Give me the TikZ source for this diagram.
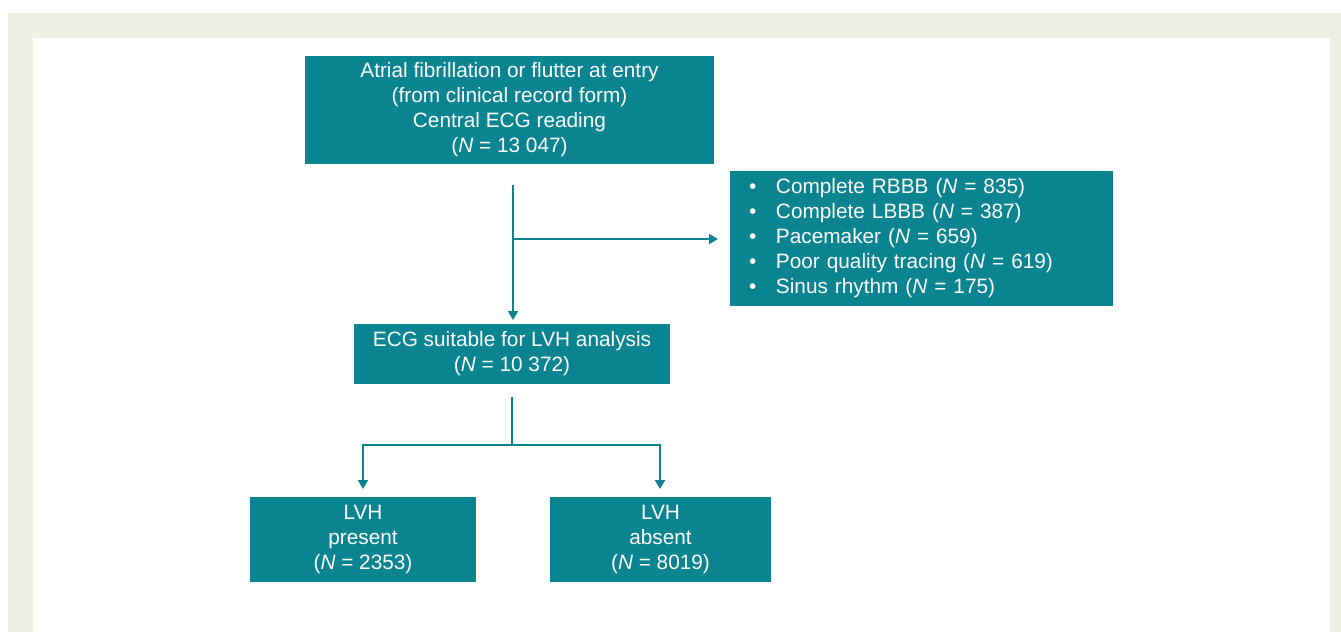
\documentclass[tikz,border=0pt]{standalone}
\usepackage{fontspec}
\setmainfont{Liberation Sans}
\usetikzlibrary{arrows.meta}
\definecolor{teal1}{RGB}{10,132,144}
\definecolor{beige1}{RGB}{239,239,227}
\tikzset{
  box/.style={fill=teal1, draw=none, text=white, align=center, inner sep=0pt,
    font=\fontsize{20.8}{25}\selectfont},
  conn/.style={draw=teal1, line width=1.9pt},
  arr/.style={conn, -{Triangle[length=9pt,width=10pt]}}
}
\newcommand{\NN}{\textit{N}}
\begin{document}
\begin{tikzpicture}[x=1pt,y=-1pt]
\useasboundingbox (0,0) rectangle (1341,632);
\fill[white] (0,0) rectangle (1341,632);
\fill[beige1] (8,13) rectangle (1341,632);
\fill[white] (33,38) rectangle (1330,632);

\node[box, minimum width=409pt, minimum height=108pt] (top) at (509.5,110)
  {Atrial fibrillation or flutter at entry\\(from clinical record form)\\Central ECG reading\\(\NN\ = 13 047)};
\node[box, minimum height=135pt, text width=345pt, inner xsep=19pt, align=left] (excl) at (921.5,238.5)
  {\makebox[27pt][l]{\textbullet}Complete RBBB (\NN\ = 835)\\
   \makebox[27pt][l]{\textbullet}Complete LBBB (\NN\ = 387)\\
   \makebox[27pt][l]{\textbullet}Pacemaker (\NN\ = 659)\\
   \makebox[27pt][l]{\textbullet}Poor quality tracing (\NN\ = 619)\\
   \makebox[27pt][l]{\textbullet}Sinus rhythm (\NN\ = 175)};
\node[box, minimum width=316pt, minimum height=60pt] (mid) at (512,354)
  {ECG suitable for LVH analysis\\(\NN\ = 10 372)};
\node[box, minimum width=226pt, minimum height=85pt] (pres) at (363,539.5)
  {LVH\\present\\(\NN\ = 2353)};
\node[box, minimum width=221pt, minimum height=85pt] (abs) at (660.5,539.5)
  {LVH\\absent\\(\NN\ = 8019)};

\coordinate (s1) at (513,185);
\coordinate (j1) at (513,239);
\coordinate (t1) at (513,320);
\coordinate (t2) at (718,239);
\coordinate (s2) at (512,397);
\coordinate (j2) at (512,445);
\coordinate (jl) at (363,445);
\coordinate (jr) at (660,445);
\coordinate (tl) at (363,489);
\coordinate (tr) at (660,489);

\draw[arr] (s1) -- (t1);
\draw[arr] (j1) -- (t2);
\draw[conn] (s2) -- (j2);
\draw[arr] (j2) -- (jl) -- (tl);
\draw[arr] (j2) -- (jr) -- (tr);
\end{tikzpicture}
\end{document}
